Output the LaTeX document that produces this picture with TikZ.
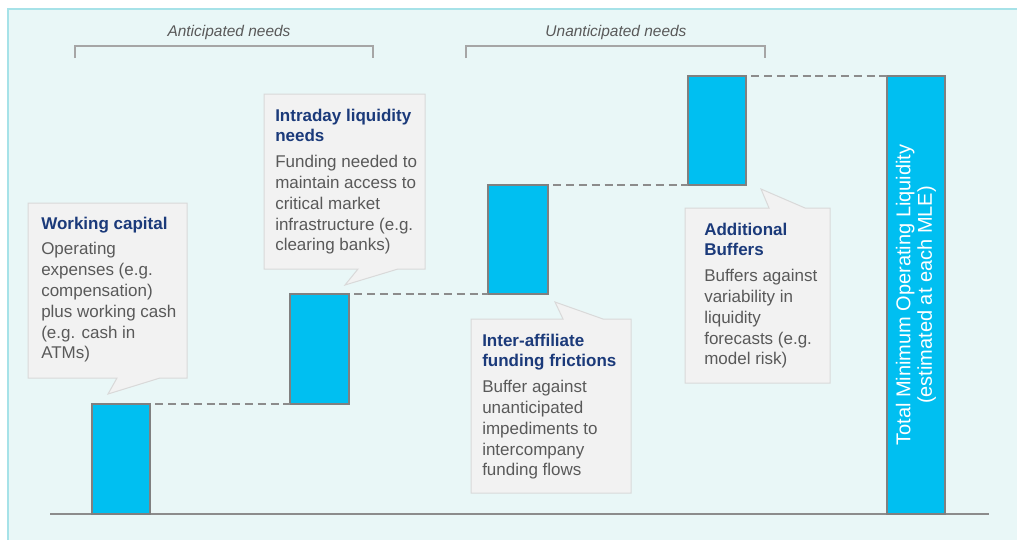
\documentclass[tikz,border=0pt]{standalone}
\usepackage{fontspec}
\setmainfont{Liberation Sans}
\usetikzlibrary{fit}
\definecolor{bgfill}{HTML}{E9F7F7}
\definecolor{bgline}{HTML}{A6E2E8}
\definecolor{barfill}{HTML}{00BFF1}
\definecolor{barline}{HTML}{808080}
\definecolor{dashgray}{HTML}{8C8C8C}
\definecolor{brgray}{HTML}{A6A6A6}
\definecolor{calfill}{HTML}{F2F2F2}
\definecolor{calline}{HTML}{D9D9D9}
\definecolor{navy}{HTML}{1B3A7A}
\definecolor{bodygray}{HTML}{595959}
\tikzset{
  barbox/.style={draw=barline, fill=barfill, line width=1.1pt, inner sep=0pt, outer sep=0pt},
  dashline/.style={draw=dashgray, line width=1.1pt, dash pattern=on 6pt off 3.6pt},
  baseline/.style={draw=dashgray, line width=1.1pt},
  bracket/.style={draw=brgray, line width=1.1pt},
  brtext/.style={font=\fontsize{11.6}{13}\selectfont\itshape, text=bodygray, inner sep=0pt, anchor=base},
  callout/.style={draw=calline, fill=calfill, line width=0.75pt, line join=miter},
  caltext/.style={font=\fontsize{12.75}{15.6}\selectfont, text=bodygray, align=left, inner sep=0pt, anchor=north west},
}
\newcommand{\ctitle}[1]{\textcolor{navy}{\bfseries #1}}
\begin{document}
\begin{tikzpicture}[x=0.75pt,y=-0.75pt]
\useasboundingbox (0,0) rectangle (1017,540);
\fill[white] (0,0) rectangle (1017,540);
\fill[bgfill] (8,9) rectangle (1017,540);
\draw[bgline, line width=1.2pt] (8,540) -- (8,9) -- (1017,9);

% brackets
\node[brtext] (ant) at (229,36.5) {Anticipated needs};
\node[brtext] (unant) at (616,36.5) {Unanticipated needs};
\draw[bracket] (75,58) -- (75,46) -- (373,46) -- (373,58);
\draw[bracket] (466,58) -- (466,46) -- (765,46) -- (765,58);

% axis
\coordinate (axL) at (50,514);
\coordinate (axR) at (989,514);
\draw[baseline] (axL) -- (axR);

% bars
\node[barbox, fit={(92,404) (150,514)}] (b1) {};
\node[barbox, fit={(290,294) (349,404)}] (b2) {};
\node[barbox, fit={(488,185) (548,294)}] (b3) {};
\node[barbox, fit={(688,76) (746,185)}] (b4) {};
\node[barbox, fit={(887,76) (945,514)}] (b5) {};
\node[rotate=90, text=white, align=center, inner sep=0pt,
      font=\fontsize{15}{16.2}\selectfont] (tot) at (b5.center)
  {Total Minimum Operating Liquidity\\(estimated at each MLE)};

% dashed connectors
\draw[dashline] ([xshift=4pt]b1.north east) -- (b2.south west);
\draw[dashline] ([xshift=4pt]b2.north east) -- (b3.south west);
\draw[dashline] ([xshift=4pt]b3.north east) -- (b4.south west);
\draw[dashline] ([xshift=4pt]b4.north east) -- (b5.north west);

% callouts
\draw[callout] (28,203) -- (187,203) -- (187,378) -- (160,378) -- (108,394) -- (117,378) -- (28,378) -- cycle;
\draw[callout] (264,94) -- (425,94) -- (425,269) -- (398,269) -- (345,285) -- (358,269) -- (264,269) -- cycle;
\draw[callout] (471,319) -- (563,319) -- (555,302) -- (603,319) -- (631,319) -- (631,493) -- (471,493) -- cycle;
\draw[callout] (685,208) -- (769,208) -- (761,189) -- (805,208) -- (830,208) -- (830,383) -- (685,383) -- cycle;

\node[caltext] (t1) at (41,216.6) {\ctitle{Working capital}\\[3.75pt]
  Operating\\expenses (e.g.\\compensation)\\plus working cash\\(e.g. cash in\\ATMs)};
\node[caltext] (t2) at (275,108.6) {\ctitle{Intraday liquidity}\\\ctitle{needs}\\[3.75pt]
  Funding needed to\\maintain access to\\critical market\\infrastructure (e.g.\\clearing banks)};
\node[caltext] (t3) at (482,333.6) {\ctitle{Inter-affiliate}\\\ctitle{funding frictions}\\[3.75pt]
  Buffer against\\unanticipated\\impediments to\\intercompany\\funding flows};
\node[caltext] (t4) at (704,222.6) {\ctitle{Additional}\\\ctitle{Buffers}\\[3.75pt]
  Buffers against\\variability in\\liquidity\\forecasts (e.g.\\model risk)};
\end{tikzpicture}
\end{document}
